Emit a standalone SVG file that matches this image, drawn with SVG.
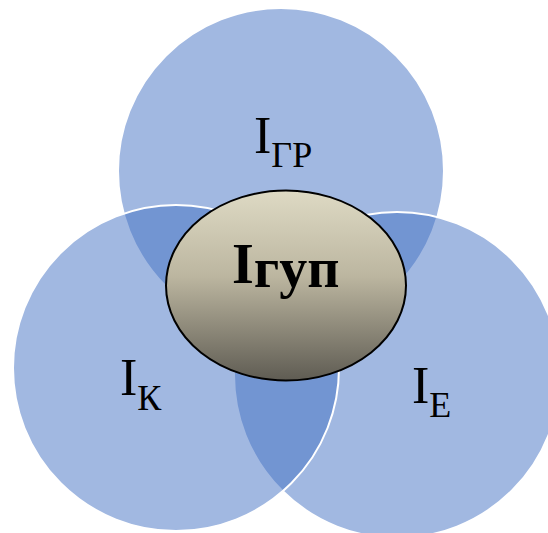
<svg xmlns="http://www.w3.org/2000/svg" width="548" height="533" viewBox="0 0 548 533">
  <defs>
    <linearGradient id="core" x1="0" y1="0" x2="0" y2="1">
      <stop offset="0" stop-color="#DEDAC4"/>
      <stop offset="0.45" stop-color="#BCB6A0"/>
      <stop offset="1" stop-color="#5F5C53"/>
    </linearGradient>
  </defs>
  <style>
    .set { fill: #4472C4; fill-opacity: 0.5; stroke: #FFFFFF; stroke-width: 2; }
    .lbl { font-family: "Liberation Serif", "Times New Roman", serif; font-size: 52px; fill: #000; }
    .sub { font-size: 36px; }
    .core { fill: url(#core); stroke: #000; stroke-width: 2; }
    .corelbl { font-family: "Liberation Serif", "Times New Roman", serif; font-weight: bold; font-size: 56px; fill: #000; }
  </style>
  <g id="set-gr">
    <circle class="set" cx="281" cy="171" r="163"/>
  </g>
  <g id="set-e">
    <circle class="set" cx="397" cy="375" r="163"/>
  </g>
  <g id="set-k">
    <circle class="set" cx="176" cy="368" r="163"/>
  </g>
  <g id="label-gr">
    <text class="lbl" x="254" y="153">I<tspan class="sub" dy="14">ГР</tspan></text>
  </g>
  <g id="label-k">
    <text class="lbl" x="120" y="395">I<tspan class="sub" dy="15">К</tspan></text>
  </g>
  <g id="label-e">
    <text class="lbl" x="412" y="403">I<tspan class="sub" dy="14">Е</tspan></text>
  </g>
  <g id="core-gup">
    <ellipse class="core" cx="286" cy="285.5" rx="120" ry="95"/>
    <text class="corelbl" x="232" y="283">I<tspan dy="4">гуп</tspan></text>
  </g>
</svg>
